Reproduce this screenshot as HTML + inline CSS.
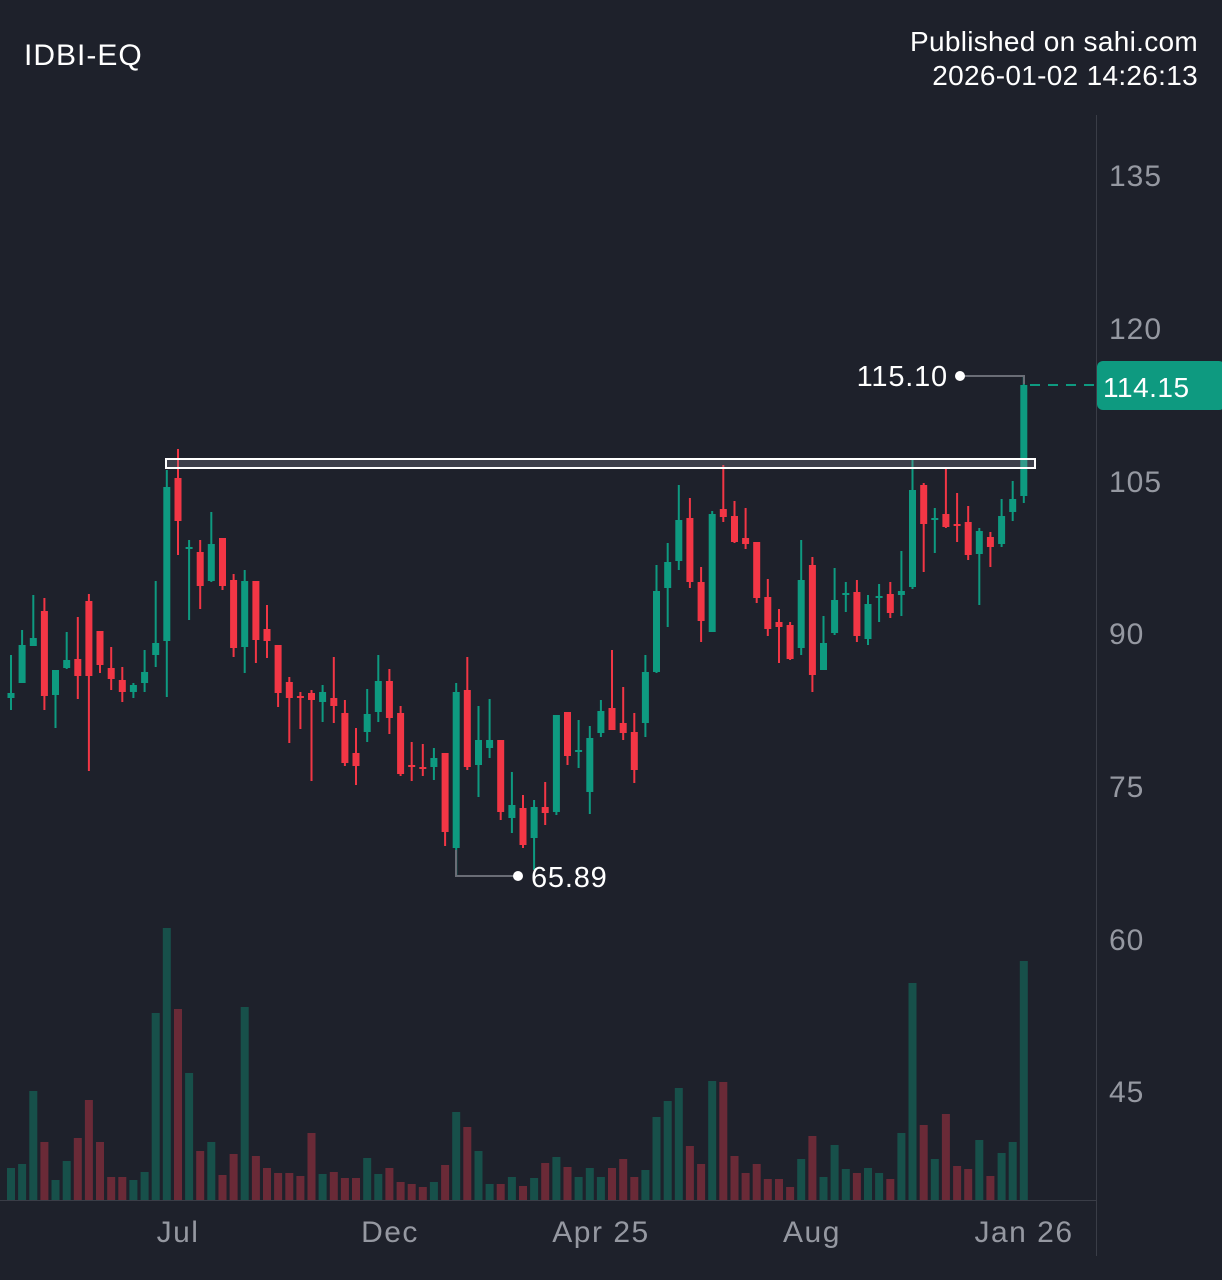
<!DOCTYPE html>
<html><head><meta charset="utf-8"><style>
html,body{margin:0;padding:0;background:#1e212b;}
body{width:1222px;height:1280px;overflow:hidden;font-family:"Liberation Sans",sans-serif;}
</style></head><body>
<svg id="s" width="1222" height="1280" xmlns="http://www.w3.org/2000/svg" style="position:absolute;left:0;top:0">
<rect width="1222" height="1280" fill="#1e212b"/>
<text x="24" y="65" font-size="30" letter-spacing="1" fill="#ffffff" font-family="Liberation Sans, sans-serif">IDBI-EQ</text>
<text x="1198" y="51" font-size="28" letter-spacing="0.3" fill="#ffffff" text-anchor="end" font-family="Liberation Sans, sans-serif">Published on sahi.com</text>
<text x="1198" y="85" font-size="28" letter-spacing="0.3" fill="#ffffff" text-anchor="end" font-family="Liberation Sans, sans-serif">2026-01-02 14:26:13</text>
<line x1="1096.5" y1="115" x2="1096.5" y2="1256" stroke="#3a3d47" stroke-width="1"/>
<line x1="0" y1="1200.5" x2="1096" y2="1200.5" stroke="#3a3d47" stroke-width="1"/>
<g font-size="30" letter-spacing="1" fill="#9598a1" font-family="Liberation Sans, sans-serif">
<text x="1109" y="186">135</text><text x="1109" y="339">120</text><text x="1109" y="492">105</text>
<text x="1109" y="644">90</text><text x="1109" y="797">75</text><text x="1109" y="950">60</text><text x="1109" y="1102">45</text>
</g>
<g font-size="30" letter-spacing="1.5" fill="#9598a1" text-anchor="middle" font-family="Liberation Sans, sans-serif">
<text x="178" y="1242">Jul</text><text x="390" y="1242">Dec</text><text x="601" y="1242">Apr 25</text><text x="812" y="1242">Aug</text><text x="1024" y="1242">Jan 26</text>
</g>
<g id="vol"></g>
<g id="cdl"></g>
<rect x="166" y="459" width="869" height="9" fill="rgba(160,160,170,0.25)" stroke="#ffffff" stroke-width="2"/>
<polyline points="960,376 1024,376 1024,384" fill="none" stroke="#6a6d76" stroke-width="2"/>
<circle cx="960" cy="376" r="5" fill="#fff"/>
<text x="948" y="386" font-size="29" letter-spacing="0.8" fill="#fff" text-anchor="end" font-family="Liberation Sans, sans-serif">115.10</text>
<polyline points="456,850 456,876 518,876" fill="none" stroke="#6a6d76" stroke-width="2"/>
<circle cx="518" cy="876" r="5" fill="#fff"/>
<text x="531" y="887" font-size="29" letter-spacing="0.8" fill="#fff" font-family="Liberation Sans, sans-serif">65.89</text>
<line x1="1030" y1="385" x2="1096" y2="385" stroke="#0e9a80" stroke-width="2" stroke-dasharray="10,8"/>
<rect x="1097" y="361" width="128" height="49" rx="6" fill="#0e9a80"/>
<text x="1103" y="397" font-size="28" letter-spacing="0.5" fill="#fff" font-family="Liberation Sans, sans-serif">114.15</text>
</svg>
<script>
var C=[
['g',693,698,655,710],['g',645,683,630,683],['g',638,646,595,646],['r',611,696,598,710],['g',670,695,670,728],
['g',660,668,632,669],['r',659,676,617,699],['r',601,676,594,771],['r',631,665,631,673],['r',668,679,647,690],
['r',680,692,667,702],['g',685,692,683,698],['g',672,683,650,692],['g',643,655,581,667],['g',487,641,470,697],
['r',478,521,449,555],['g',547,549,540,620],['r',552,586,540,609],['g',544,581,512,582],['r',538,586,538,590],
['r',580,648,574,657],['g',581,647,570,673],['r',581,640,581,663],['r',629,641,605,658],['r',645,693,645,707],
['r',682,698,677,743],['r',696,698,692,729],['r',693,700,690,781],['g',692,702,685,722],['r',698,706,657,723],
['r',713,763,700,766],['r',753,766,728,785],['g',714,732,689,742],['g',681,712,655,722],['r',681,718,669,734],
['r',713,774,706,776],['r',765,767,742,781],['r',767,769,744,776],['g',758,767,748,780],['r',753,832,753,846],
['g',692,848,683,876],['r',690,767,657,770],['g',740,765,706,797],['g',740,748,699,758],['r',740,812,740,820],
['g',805,818,772,833],['r',808,845,795,848],['g',807,838,800,870],
['r',807,813,782,825],['g',715,812,715,815],['r',712,756,712,765],['g',750,752,720,768],['g',738,792,726,814],
['g',711,733,700,737],['r',708,730,650,730],['r',723,733,687,740],['r',732,770,713,783],['g',672,723,655,737],
['g',591,672,565,673],['g',562,588,543,627],['g',520,561,485,570],['r',518,582,498,588],['r',582,621,567,642],
['g',514,632,511,632],['r',509,517,465,522],['r',516,542,501,543],['r',538,544,508,549],['r',542,598,542,603],
['r',597,629,579,636],['r',622,627,609,663],['r',625,659,622,660],['g',580,648,540,655],['r',565,675,557,692],
['g',643,670,616,670],['g',600,633,568,635],['g',593,595,582,612],['r',592,636,580,642],['g',604,639,595,645],
['g',596,598,584,622],['r',594,613,582,618],['g',591,595,551,616],['g',490,587,460,589],['r',485,524,483,572],
['g',518,520,508,553],['r',514,527,469,528],['r',524,526,493,542],['r',522,555,506,560],['g',531,554,528,605],
['r',537,547,532,567],['g',516,544,499,547],['g',499,512,481,521],['g',385,496,376,503]];
var V=[1168,1164,1091,1142,1180,1161,1138,1100,1142,1177,1177,1180,1172,1013,928,1009,1073,1151,1142,1175,1154,1007,1156,1168,1173,1173,1176,1133,1174,1172,1178,1178,1158,1174,1168,1182,1184,1187,1182,1165,1112,1127,1151,1184,1184,1177,
1186,1178,1163,1157,1167,1177,1168,1177,1168,1159,1177,1170,1117,1101,1088,1146,1164,1081,1082,1156,1173,1164,1179,1179,1187,1159,1136,1177,1145,1169,1173,1168,1173,1179,1133,983,1125,1159,1114,1166,1169,1140,1176,1153,1142,961];
var vh='',ch='';
for(var i=0;i<C.length;i++){
 var x=11+i*11.13,c=C[i],col=c[0]=='g'?'#0e9a80':'#f23645',vc=c[0]=='g'?'#17504a':'#6a2a37';
 vh+='<rect x="'+(x-4).toFixed(1)+'" y="'+V[i]+'" width="8" height="'+(1200-V[i])+'" fill="'+vc+'"/>';
 ch+='<rect x="'+(x-1).toFixed(1)+'" y="'+c[3]+'" width="2" height="'+(c[4]-c[3])+'" fill="'+col+'"/>';
 var h=Math.max(2,c[2]-c[1]);
 ch+='<rect x="'+(x-3.5).toFixed(1)+'" y="'+c[1]+'" width="7" height="'+h+'" fill="'+col+'"/>';
}
document.getElementById('vol').innerHTML=vh;
document.getElementById('cdl').innerHTML=ch;
</script>
</body></html>
